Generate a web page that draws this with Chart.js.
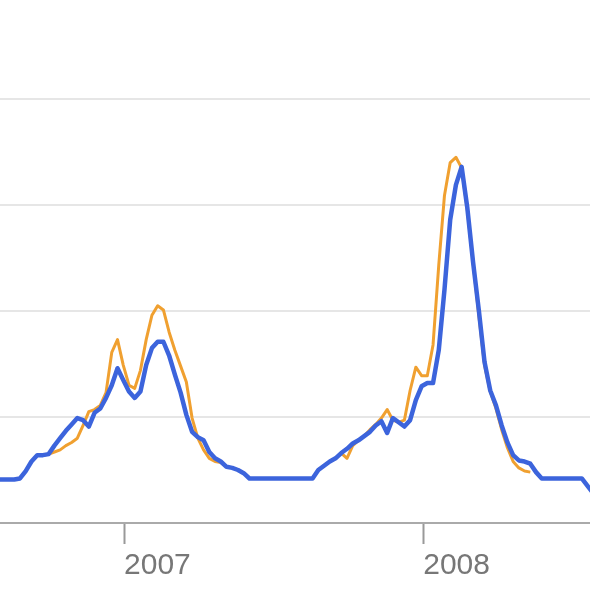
<!DOCTYPE html>
<html>
<head>
<meta charset="utf-8">
<script src="https://cdn.jsdelivr.net/npm/chart.js@4/dist/chart.umd.min.js"></script>
<style>
html,body{margin:0;padding:0;background:#fff;}
</style>
</head>
<body>
<canvas id="grafico" width="590" height="590"></canvas>
<script>

// tick labels on the time axis
const tickYears = [2007, 2008];

// weekly values, first week starts 2006-07-30
const blueValues = [
0.41,0.41,0.41,0.41,0.42,0.49,0.58,0.64,0.64,0.65,
0.73,0.80,0.87,0.93,0.99,0.97,0.91,1.04,1.08,1.18,
1.30,1.46,1.35,1.24,1.18,1.24,1.49,1.65,1.71,1.71,
1.58,1.40,1.23,1.02,0.86,0.81,0.78,0.67,0.61,0.58,
0.53,0.52,0.50,0.47,0.42,0.42,0.42,0.42,0.42,0.42,
0.42,0.42,0.42,0.42,0.42,0.42,0.50,0.54,0.58,0.61,
0.66,0.70,0.75,0.78,0.82,0.86,0.92,0.96,0.85,0.99,
0.95,0.91,0.97,1.16,1.29,1.32,1.32,1.63,2.20,2.86,
3.19,3.36,2.97,2.46,2.01,1.52,1.25,1.11,0.92,0.76,
0.64,0.59,0.58,0.56,0.48,0.42,0.42,0.42,0.42,0.42,
0.42,0.42,0.42,0.35,0.28
];

const orangeValues = [
0.41,0.41,0.41,0.41,0.42,0.49,0.58,0.64,0.64,0.65,
0.67,0.69,0.73,0.76,0.80,0.92,1.05,1.07,1.11,1.23,
1.61,1.73,1.49,1.30,1.27,1.44,1.73,1.96,2.05,2.01,
1.80,1.63,1.48,1.33,0.99,0.80,0.69,0.61,0.58,0.57,
0.53,0.52,0.50,0.47,0.42,0.42,0.42,0.42,0.42,0.42,
0.42,0.42,0.42,0.42,0.42,0.42,0.50,0.54,0.58,0.61,
0.66,0.61,0.73,0.78,0.82,0.88,0.93,0.99,1.07,0.97,
0.95,0.97,1.25,1.47,1.39,1.39,1.68,2.43,3.09,3.40,
3.45,3.35,2.95,2.46,1.96,1.49,1.24,1.08,0.88,0.71,
0.58,0.52,0.49,0.48,null,null,null,null,null,null,
null,null,null,null,null
];


const firstWeek = new Date(2006, 6, 30);

function fracYear(d){
const y = d.getFullYear();
const start = new Date(y, 0, 1);
const end = new Date(y + 1, 0, 1);
return y + (d - start) / (end - start);
}

const weeks = blueValues.map((v, i) => {
const d = new Date(firstWeek);
d.setDate(d.getDate() + 7 * i);
return fracYear(d);
});


new Chart(

document.getElementById("grafico"),

{
type: "line",

data: {
datasets: [
{
label: "blue",
data: weeks.map((x, i) => ({x: x, y: blueValues[i]})),
borderColor: "#3c64dc",
borderWidth: 4.5,
pointRadius: 0,
tension: 0,
borderJoinStyle: "round",
order: 1
},
{
label: "orange",
data: weeks.map((x, i) => ({x: x, y: orangeValues[i]})),
borderColor: "#f0a030",
borderWidth: 3,
pointRadius: 0,
tension: 0,
borderJoinStyle: "round",
spanGaps: false,
order: 2
}
]
},

options: {
responsive: false,
animation: false,
devicePixelRatio: 1,
layout: {padding: 0},
plugins: {
legend: {display: false},
tooltip: {enabled: false}
},
scales: {
x: {
type: "linear",
min: 2006.5853,
max: 2008.5575,
afterBuildTicks: s => { s.ticks = tickYears.map(v => ({value: v})); },
afterFit: s => { s.height = 67; },
ticks: {
align: "start",
color: "#777",
padding: 4,
maxRotation: 0,
autoSkip: false,
font: {family: "Liberation Sans, Arial, sans-serif", size: 30},
callback: v => String(v)
},
grid: {
drawOnChartArea: false,
drawTicks: true,
tickLength: 21,
tickColor: "#999",
tickWidth: 2
},
border: {color: "#aaa", width: 2}
},
y: {
min: 0,
max: 4.934,
afterBuildTicks: s => { s.ticks = [0, 1, 2, 3, 4].map(v => ({value: v})); },
afterFit: s => { s.width = 0; },
ticks: {display: false},
grid: {color: "#e6e6e6", lineWidth: 2, drawTicks: false},
border: {display: false}
}
}
}
}

);

</script>
</body>
</html>
